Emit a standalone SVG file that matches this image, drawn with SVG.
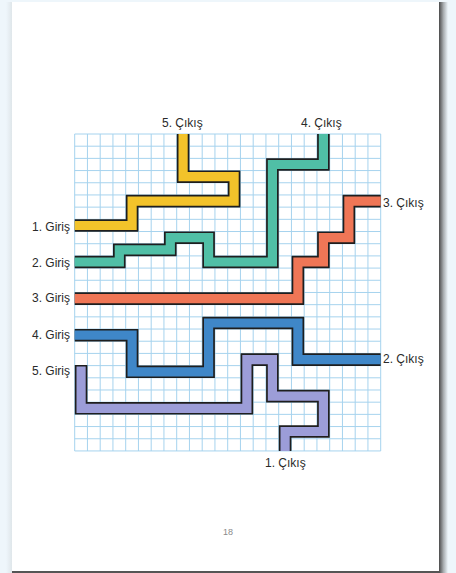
<svg xmlns="http://www.w3.org/2000/svg" width="456" height="573" viewBox="0 0 456 573">
<defs>
<linearGradient id="shR" x1="0" y1="0" x2="1" y2="0"><stop offset="0" stop-color="#4a4a4a"/><stop offset="0.5" stop-color="#a8adb0"/><stop offset="1" stop-color="#eef6fb"/></linearGradient>
<linearGradient id="shL" x1="0" y1="0" x2="1" y2="0"><stop offset="0" stop-color="#eef6fb"/><stop offset="1" stop-color="#dfe6ea"/></linearGradient>
</defs>
<style>
.g{stroke:#a6d3ee;stroke-width:1;fill:none}
.ol{fill:none;stroke:#1e1e1e;stroke-width:12.6;stroke-linejoin:miter;stroke-linecap:butt}
.f{fill:none;stroke-width:9.2;stroke-linejoin:miter;stroke-linecap:butt}
.lb{font-family:"Liberation Sans",Arial,sans-serif;font-size:12px;fill:#2a2a2a}
</style>
<rect width="456" height="573" fill="#eef6fb"/>
<rect x="6" y="2" width="6" height="571" fill="url(#shL)"/>
<rect x="439" y="2" width="9" height="571" fill="url(#shR)"/>
<rect x="12" y="570" width="428" height="3" fill="#555"/>
<rect x="12" y="2" width="427" height="569" fill="#ffffff"/>
<g id="grid">
<path class="g" d="M74.7 134V451M87.45 134V451M100.2 134V451M112.95 134V451M125.7 134V451M138.45 134V451M151.2 134V451M163.95 134V451M176.7 134V451M189.45 134V451M202.2 134V451M214.95 134V451M227.7 134V451M240.45 134V451M253.2 134V451M265.95 134V451M278.7 134V451M291.45 134V451M304.2 134V451M316.95 134V451M329.7 134V451M342.45 134V451M355.2 134V451M367.95 134V451M380.7 134V451"/>
<path class="g" d="M74.7 134H380.7M74.7 146.19H380.7M74.7 158.38H380.7M74.7 170.57H380.7M74.7 182.76H380.7M74.7 194.95H380.7M74.7 207.14H380.7M74.7 219.33H380.7M74.7 231.52H380.7M74.7 243.71H380.7M74.7 255.9H380.7M74.7 268.09H380.7M74.7 280.28H380.7M74.7 292.47H380.7M74.7 304.66H380.7M74.7 316.85H380.7M74.7 329.04H380.7M74.7 341.23H380.7M74.7 353.42H380.7M74.7 365.61H380.7M74.7 377.8H380.7M74.7 389.99H380.7M74.7 402.18H380.7M74.7 414.37H380.7M74.7 426.56H380.7M74.7 438.75H380.7M74.7 450.94H380.7"/>
</g>
<g id="path1-yellow">
<path class="ol" d="M74.7 225.5H132.1V201.1H234.1V176.7H183.1V134"/>
<path class="f" stroke="#f3c32a" d="M74.7 225.5H132.1V201.1H234.1V176.7H183.1V134"/>
</g>
<g id="path2-teal">
<path class="ol" d="M74.7 262H119.3V249.9H170.3V237.7H208.6V262H272.4V164.5H323.4V134"/>
<path class="f" stroke="#50bfa6" d="M74.7 262H119.3V249.9H170.3V237.7H208.6V262H272.4V164.5H323.4V134"/>
</g>
<g id="path3-red">
<path class="ol" d="M74.7 298.6H297.9V262H323.4V237.7H348.9V201.1H380.7"/>
<path class="f" stroke="#ef7656" d="M74.7 298.6H297.9V262H323.4V237.7H348.9V201.1H380.7"/>
</g>
<g id="path4-blue">
<path class="ol" d="M74.7 335.2H132.1V371.8H208.6V323H297.9V359.6H380.7"/>
<path class="f" stroke="#3f87c8" d="M74.7 335.2H132.1V371.8H208.6V323H297.9V359.6H380.7"/>
</g>
<g id="path5-purple">
<path class="ol" d="M81.1 365V408.3H246.9V359.6H272.4V396.1H323.4V431.5H285.1V451"/>
<path class="f" stroke="#9c9dd8" d="M81.1 366.6V408.3H246.9V359.6H272.4V396.1H323.4V431.5H285.1V451"/>
</g>
<g id="labels">
<text class="lb" x="70" y="231" text-anchor="end">1. Giriş</text>
<text class="lb" x="70" y="267" text-anchor="end">2. Giriş</text>
<text class="lb" x="70" y="302" text-anchor="end">3. Giriş</text>
<text class="lb" x="70" y="339" text-anchor="end">4. Giriş</text>
<text class="lb" x="70" y="375" text-anchor="end">5. Giriş</text>
<text class="lb" x="162" y="127">5. Çıkış</text>
<text class="lb" x="301" y="127">4. Çıkış</text>
<text class="lb" x="383" y="207">3. Çıkış</text>
<text class="lb" x="383" y="363">2. Çıkış</text>
<text class="lb" x="265" y="467">1. Çıkış</text>
<text x="228" y="535" text-anchor="middle" font-family="Liberation Sans,Arial,sans-serif" font-size="9" fill="#8a8a8a">18</text>
</g>
</svg>
